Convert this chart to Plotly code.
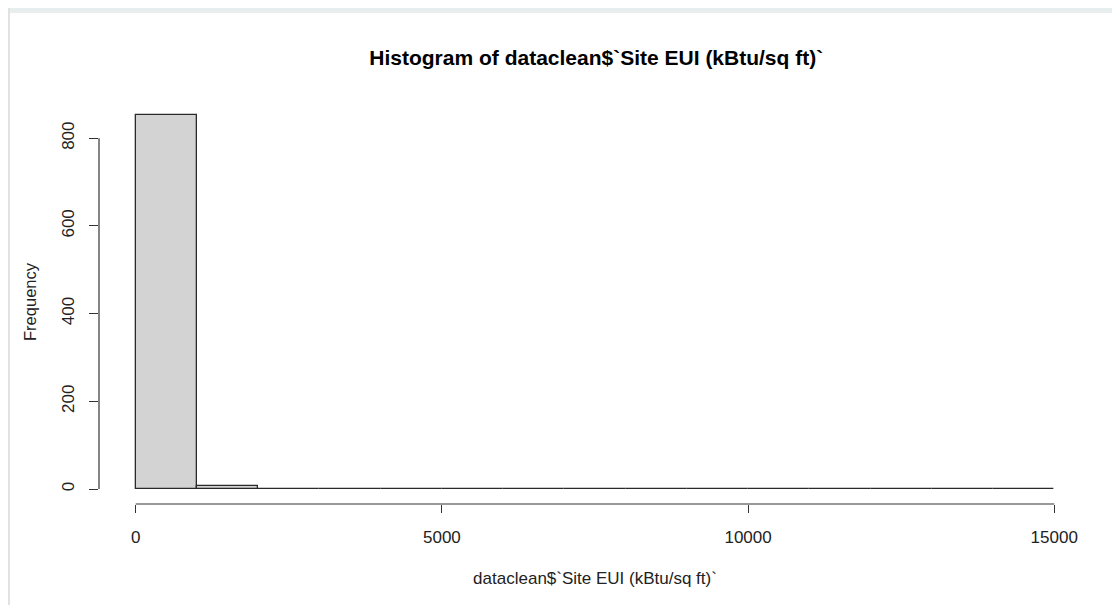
import plotly.graph_objects as go

# Histogram bins (kBtu/sq ft) and counts
bin_starts = [0, 1000, 2000, 3000, 4000, 5000, 6000, 7000, 8000, 9000, 10000, 11000, 12000, 13000, 14000]
bin_width = 1000
counts = [853, 6, 0, 0, 0, 0, 0, 0, 0, 0, 0, 0, 0, 0, 1]
x_ticks = [0, 5000, 10000, 15000]
y_ticks = [0, 200, 400, 600, 800]

title = "Histogram of dataclean$`Site EUI (kBtu/sq ft)`"
x_title = "dataclean$`Site EUI (kBtu/sq ft)`"
y_title = "Frequency"

centers = [s + bin_width / 2 for s in bin_starts]

fig = go.Figure()
fig.add_trace(go.Bar(
    x=centers, y=counts, width=[bin_width] * len(counts),
    marker=dict(color="#d3d3d3", line=dict(color="#2a2a2a", width=1.3)),
    hoverinfo="x+y",
))

font = "Liberation Sans, Arial, sans-serif"
W, H = 1112, 597
L, T, R, B = 91, 92, 29, 101
plot_h = H - T - B
xmin, xmax = min(x_ticks), max(x_ticks)
ymax = max(counts)
fig.update_layout(
    width=W, height=H,
    margin=dict(l=L, r=R, t=T, b=B),
    paper_bgcolor="white", plot_bgcolor="white",
    showlegend=False, bargap=0,
    title=dict(text="<b>" + title + "</b>", x=0.529, xanchor="center", y=1 - 50 / H, yanchor="middle",
               font=dict(family=font, size=21, color="black")),
    font=dict(family=font, color="black"),
)
fig.update_xaxes(
    range=[xmin - 0.04 * (xmax - xmin), xmax + 0.04 * (xmax - xmin)],
    tickvals=x_ticks, ticktext=[str(v) for v in x_ticks],
    ticks="outside", ticklen=8, tickcolor="#333333", tickwidth=1.2, ticklabelstandoff=10,
    showline=False, showgrid=False, zeroline=False,
    tickfont=dict(size=17, family=font, color="#222222"),
    title=dict(text=x_title, font=dict(size=17, family=font, color="#222222"), standoff=25),
)
fig.update_yaxes(
    range=[-0.04 * ymax, 1.04 * ymax],
    tickvals=y_ticks, ticktext=[str(v) for v in y_ticks],
    ticks="outside", ticklen=9, tickcolor="#333333", tickwidth=1.2, tickangle=-90, ticklabelstandoff=8,
    showline=False, showgrid=False, zeroline=False,
    tickfont=dict(size=17, family=font, color="#222222"),
    title=dict(text=y_title, font=dict(size=16.5, family=font, color="#222222"), standoff=18),
)
# R-style detached axis lines
fig.add_shape(type="line", xref="x", yref="paper", x0=xmin, x1=xmax, y0=0, y1=0,
              line=dict(color="#333333", width=1.2))
fig.add_shape(type="line", xref="paper", yref="y", x0=0, x1=0, y0=min(y_ticks), y1=max(y_ticks),
              line=dict(color="#333333", width=1.2))
# screenshot frame
plot_w = W - L - R
fig.add_shape(type="rect", xref="paper", yref="paper", x0=-L / plot_w, x1=1 + R / plot_w,
              y0=1 + (T - 5) / plot_h, y1=1 + T / plot_h,
              line=dict(width=0), fillcolor="#e8eded", layer="below")
fig.add_shape(type="line", xref="paper", yref="paper", x0=-(L - 1) / plot_w, x1=-(L - 1) / plot_w,
              y0=-B / plot_h, y1=1 + T / plot_h,
              line=dict(color="#e2e2e2", width=2))

fig.write_html("out.html")
